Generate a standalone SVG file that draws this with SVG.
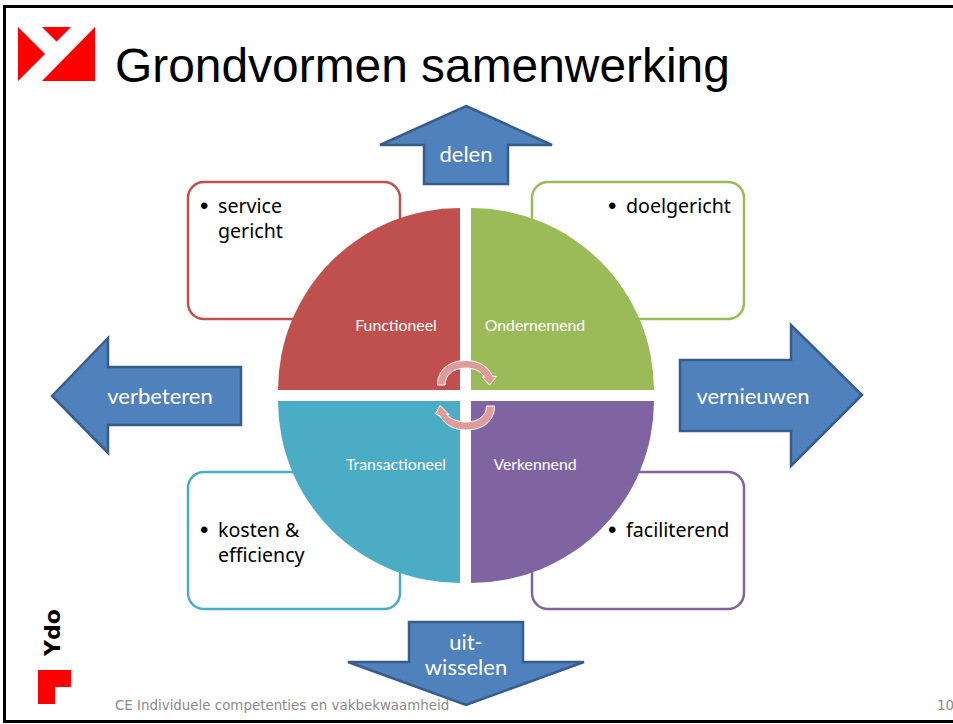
<svg xmlns="http://www.w3.org/2000/svg" width="953" height="724" viewBox="0 0 953 724">
<style>
.arrow{fill:#4f81bd;stroke:#385d8a;stroke-width:2.5}
.atxt{font-family:"Lato","Liberation Sans",sans-serif;font-size:22px;fill:#fff;text-anchor:middle}
.btxt{font-family:"Noto Sans","Open Sans",sans-serif;font-size:19.6px;fill:#000}
.bul{font-family:"Liberation Sans",sans-serif;font-size:24px;fill:#000}
.ptxt{font-family:"Lato","Liberation Sans",sans-serif;font-size:15.8px;fill:#fff;text-anchor:middle}
.box{fill:#fff;stroke-width:2.5}
.cyc{fill:#dd9b9a;stroke:#fff;stroke-width:1}
.foot{font-family:"DejaVu Sans",sans-serif;font-size:13.4px;fill:#8a8a8a}
</style>
<rect x="0" y="0" width="953" height="724" fill="#fff"/>
<path d="M4.500 6.500H953M4.500 5V721M3 721.500H953" fill="none" stroke="#000" stroke-width="3"/>
<g id="logo">
<path d="M18 27L45 54L18 81ZM42 27H71L56.500 41.500ZM95 27V81H42Z" fill="#f00"/>
</g>
<text id="title" x="115" y="82" font-family="'Liberation Sans',Arial,sans-serif" font-size="47.900" fill="#000">Grondvormen samenwerking</text>
<g id="box-service"><rect class="box" x="188" y="182" width="212" height="137" rx="16" stroke="#c0504d"/><text class="bul" x="200" y="214">•</text><text class="btxt" x="218" y="213">service</text><text class="btxt" x="218" y="238">gericht</text></g>
<g id="box-doelgericht"><rect class="box" x="532" y="182" width="212" height="137" rx="16" stroke="#9bbb59"/><text class="bul" x="608" y="214">•</text><text class="btxt" x="626" y="213">doelgericht</text></g>
<g id="box-kosten"><rect class="box" x="188" y="472" width="212" height="137" rx="16" stroke="#4bacc6"/><text class="bul" x="200" y="538">•</text><text class="btxt" x="218" y="537">kosten &amp;</text><text class="btxt" x="218" y="562">efficiency</text></g>
<g id="box-faciliterend"><rect class="box" x="532" y="472" width="212" height="137" rx="16" stroke="#8064a2"/><text class="bul" x="608" y="538">•</text><text class="btxt" x="626" y="537">faciliterend</text></g>
<g id="functioneel"><path d="M460 208V390H278A182 182 0 0 1 460 208Z" fill="#c0504d"/><text class="ptxt" x="396" y="331">Functioneel</text></g>
<g id="ondernemend"><path d="M471 208A183 182 0 0 1 654 390H471Z" fill="#9bbb59"/><text class="ptxt" x="535" y="331">Ondernemend</text></g>
<g id="transactioneel"><path d="M278 401H460V583A182 182 0 0 1 278 401Z" fill="#4bacc6"/><text class="ptxt" x="396" y="470">Transactioneel</text></g>
<g id="verkennend"><path d="M471 401H654A183 182 0 0 1 471 583Z" fill="#8064a2"/><text class="ptxt" x="535" y="470">Verkennend</text></g>
<g id="connectors">
<path class="cyc" d="M437.500 385C437.500 369 450 360.500 466 360.500C478 360.500 488 366 492.500 376L496.500 376.500L489.500 385L482 377L484.500 377.500C481 371 474 368 466 368C453 368 445 375 445 385Z"/>
<path class="cyc" d="M494.500 406C494.500 422 482 430 466 430C454 430 445 425 440 416L435.500 414L440 405.500L449 414.500L446.500 414C450 419 458 422 466 422C478 422 486.500 416 486.500 406Z"/>
</g>
<g id="arrow-delen"><path class="arrow" d="M466 106L552 145H508V184H424V145H380Z"/><text class="atxt" x="466" y="162">delen</text></g>
<g id="arrow-verbeteren"><path class="arrow" d="M52 396L108 338V367H241V425H108V453Z"/><text class="atxt" x="160" y="404">verbeteren</text></g>
<g id="arrow-vernieuwen"><path class="arrow" d="M680 360H791V325L862 395L791 466V431H680Z"/><text class="atxt" x="753" y="404">vernieuwen</text></g>
<g id="arrow-uitwisselen"><path class="arrow" d="M409 622H523V662H584L466 705L348 662H409Z"/><text class="atxt" x="466" y="650">uit-</text><text class="atxt" x="466" y="675">wisselen</text></g>
<g id="ydo"><text transform="translate(60 656) rotate(-90)" font-family="'DejaVu Sans',sans-serif" font-weight="bold" font-size="22" fill="#000">Ydo</text><path d="M38 670H71V687H55V704H38Z" fill="#f00"/></g>
<text class="foot" x="115" y="710">CE Individuele competenties en vakbekwaamheid</text>
<text class="foot" x="937" y="710">10</text>
</svg>
